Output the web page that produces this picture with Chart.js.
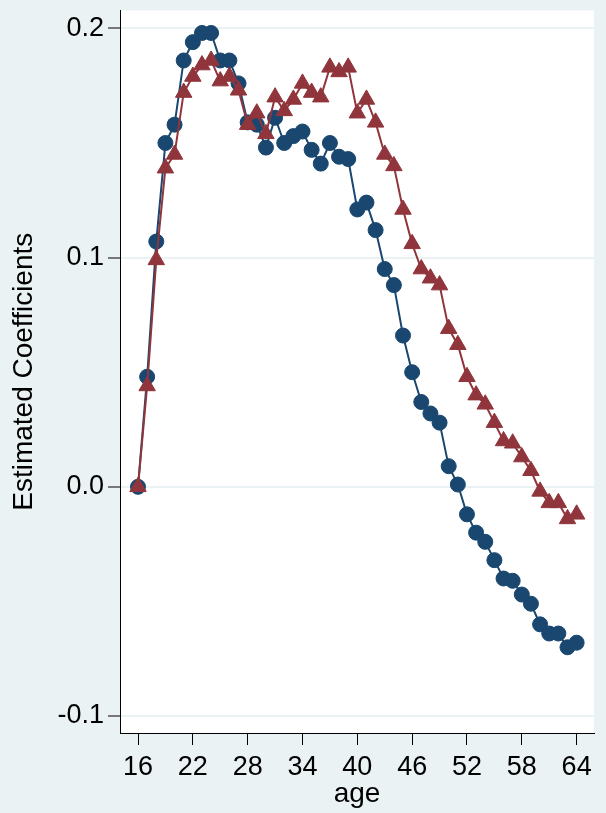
<!DOCTYPE html>
<html>
<head>
<meta charset="utf-8">
<script src="https://cdn.jsdelivr.net/npm/chart.js@4"></script>
<style>
  body { margin: 0; background: #eaf2f3; }
  canvas { display: block; }
</style>
</head>
<body>
<canvas id="coefChart" width="606" height="813"></canvas>
<script>
// ages 16..64
const ages = [];
for (let a = 16; a <= 64; a++) ages.push(a);

const blueCoefs = [
  0.000, 0.048, 0.107, 0.150, 0.158, 0.186, 0.194, 0.198, 0.198, 0.186,
  0.186, 0.176, 0.159, 0.158, 0.148, 0.161, 0.150, 0.153, 0.155, 0.147,
  0.141, 0.150, 0.144, 0.143, 0.121, 0.124, 0.112, 0.095, 0.088, 0.066,
  0.050, 0.037, 0.032, 0.028, 0.009, 0.001, -0.012, -0.020, -0.024, -0.032,
  -0.040, -0.041, -0.047, -0.051, -0.060, -0.064, -0.064, -0.070, -0.068
];

const redCoefs = [
  0.000, 0.044, 0.099, 0.139, 0.145, 0.172, 0.179, 0.184, 0.186, 0.177,
  0.179, 0.173, 0.158, 0.163, 0.154, 0.170, 0.164, 0.169, 0.176, 0.172,
  0.170, 0.183, 0.181, 0.183, 0.163, 0.169, 0.159, 0.145, 0.140, 0.121,
  0.106, 0.095, 0.091, 0.088, 0.069, 0.062, 0.048, 0.040, 0.036, 0.028,
  0.020, 0.019, 0.013, 0.007, -0.002, -0.007, -0.007, -0.014, -0.012
];

const xTicks = [16, 22, 28, 34, 40, 46, 52, 58, 64];
const yTicks = [-0.1, 0.0, 0.1, 0.2];

const BG = '#eaf2f3';
const BLUE = '#1a476f';
const RED = '#90353b';
const FONT = '"Liberation Sans", Arial, sans-serif';

// outer background + white plot region
const plotBg = {
  id: 'plotBg',
  beforeDraw(chart) {
    const { ctx, chartArea: a } = chart;
    ctx.save();
    ctx.fillStyle = BG;
    ctx.fillRect(0, 0, chart.width, chart.height);
    ctx.fillStyle = '#ffffff';
    ctx.fillRect(a.left, a.top, a.right - a.left, a.bottom - a.top);
    ctx.restore();
  }
};

const toPoints = vals => vals.map((v, i) => ({ x: ages[i], y: v }));

new Chart(document.getElementById('coefChart').getContext('2d'), {
  type: 'line',
  data: {
    datasets: [
      {
        data: toPoints(blueCoefs),
        borderColor: BLUE,
        backgroundColor: BLUE,
        borderWidth: 2,
        pointStyle: 'circle',
        pointRadius: 7.5,
        pointBorderWidth: 1,
        order: 2
      },
      {
        data: toPoints(redCoefs),
        borderColor: RED,
        backgroundColor: RED,
        borderWidth: 2,
        pointStyle: 'triangle',
        pointRadius: 9.5,
        pointBorderWidth: 1,
        order: 1
      }
    ]
  },
  options: {
    responsive: false,
    animation: false,
    layout: { padding: { top: 6, right: 12, left: 0, bottom: 0 } },
    plugins: { legend: { display: false }, tooltip: { enabled: false } },
    scales: {
      x: {
        type: 'linear',
        min: 14.03,
        max: 65.9,
        afterBuildTicks: s => { s.ticks = xTicks.map(v => ({ value: v })); },
        afterFit: s => { s.height = 80; s.paddingLeft = 0; s.paddingRight = 0; },
        grid: { drawOnChartArea: false, tickLength: 12, tickColor: '#000', tickWidth: 1 },
        border: { display: true, color: '#000', width: 1 },
        ticks: { color: '#000', font: { family: FONT, size: 27 }, padding: 6, maxRotation: 0 },
        title: { display: true, text: 'age', color: '#000', font: { family: FONT, size: 28 }, padding: { top: 0, bottom: 2 } }
      },
      y: {
        min: -0.1074,
        max: 0.2078,
        afterBuildTicks: s => { s.ticks = yTicks.map(v => ({ value: v })); },
        afterFit: s => { s.width = 120; s.paddingTop = 0; s.paddingBottom = 0; },
        grid: { color: BG, lineWidth: 2, tickLength: 12, tickColor: '#000', tickWidth: 1 },
        border: { display: true, color: '#000', width: 1 },
        ticks: { color: '#000', font: { family: FONT, size: 27 }, padding: 4, callback: v => v.toFixed(1) },
        title: { display: true, text: 'Estimated Coefficients', color: '#000', font: { family: FONT, size: 28 }, padding: { top: 7, bottom: 0 } }
      }
    }
  },
  plugins: [plotBg]
});
</script>
</body>
</html>
